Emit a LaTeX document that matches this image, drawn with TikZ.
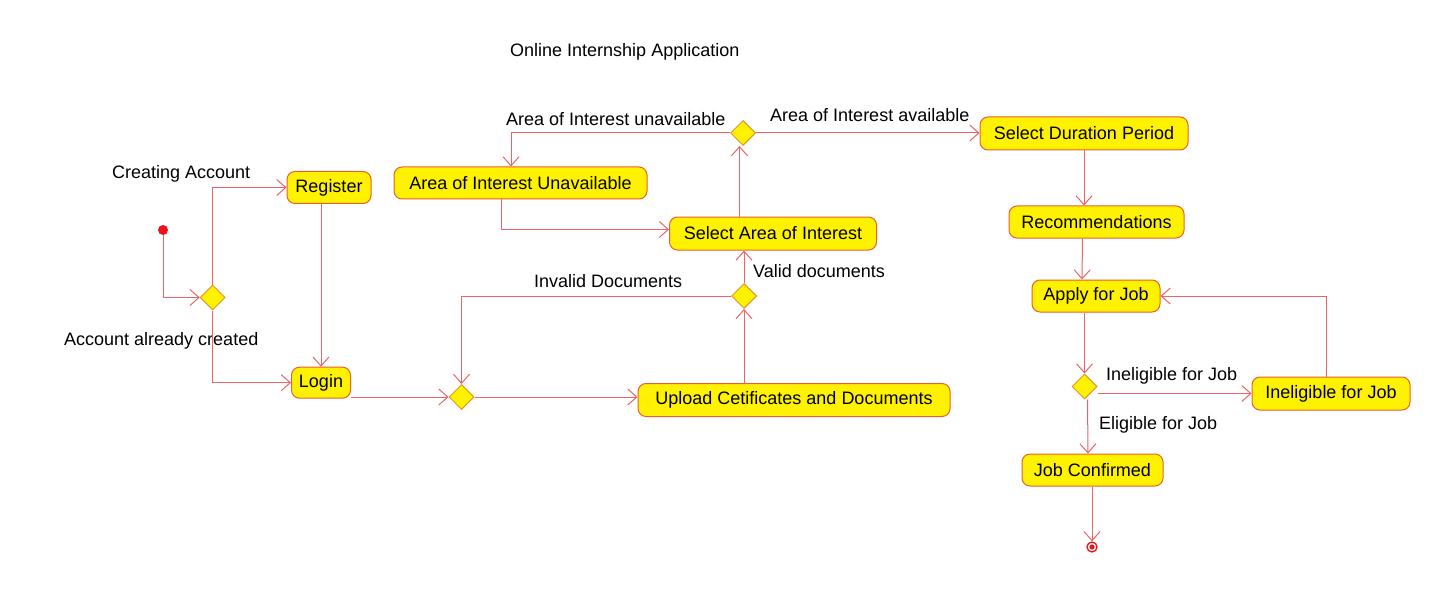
\documentclass[tikz,border=0pt]{standalone}
\usepackage{fontspec}
\setmainfont{Liberation Sans}
\usetikzlibrary{arrows.meta,shapes.geometric,calc}
\definecolor{boxline}{RGB}{232,96,44}
\definecolor{dialine}{RGB}{226,150,40}
\definecolor{flowline}{RGB}{236,100,100}
\definecolor{dotred}{RGB}{236,20,28}
\tikzset{
  act/.style={draw=boxline, fill=yellow, rounded corners=8pt, line width=1pt,
    inner sep=0pt, font=\fontsize{18}{21}\selectfont},
  dec/.style={diamond, draw=dialine, fill=yellow, line width=1pt, inner sep=0pt,
    minimum width=25pt, minimum height=25pt},
  flow/.style={draw=flowline, line width=1pt,
    -{Straight Barb[length=9pt,width=16pt,line width=1pt]}},
  lbl/.style={anchor=base west, inner sep=0pt, font=\fontsize{18}{21}\selectfont}
}
\begin{document}
\begin{tikzpicture}[x=1pt,y=-1pt]
\useasboundingbox (0,0) rectangle (1453,604);
\fill[white] (0,0) rectangle (1453,604);

% title
\node[lbl] (title) at (510,57) {Online Internship Application};

% start / end
\node[circle, fill=dotred, inner sep=0pt, minimum size=10pt] (start) at (163,230) {};
\node[circle, draw=dotred, fill=white, line width=1.3pt, inner sep=0pt, minimum size=10pt] (stop) at (1092,547) {};
\fill[dotred] (stop.center) circle (2.6pt);

% activities
\node[act, minimum width=84pt, minimum height=32pt] (reg) at (329,187.5) {Register};
\node[act, minimum width=59pt, minimum height=31pt] (login) at (321,382.7) {Login};
\node[act, minimum width=253pt, minimum height=32pt] (aoiu) at (520.5,183) {Area of Interest Unavailable};
\node[act, minimum width=207pt, minimum height=33pt] (sai) at (773,233.5) {Select Area of Interest};
\node[act, minimum width=312pt, minimum height=33pt] (upload) at (794,400) {Upload Cetificates and Documents};
\node[act, minimum width=208pt, minimum height=33pt] (sdp) at (1084,133.5) {Select Duration Period};
\node[act, minimum width=175pt, minimum height=32pt] (rec) at (1096.5,222) {Recommendations};
\node[act, minimum width=128pt, minimum height=32pt] (apply) at (1096,296) {Apply for Job};
\node[act, minimum width=158pt, minimum height=33pt] (ifj) at (1331,393.5) {Ineligible for Job};
\node[act, minimum width=141pt, minimum height=32pt] (jc) at (1092.5,470) {Job Confirmed};

% decisions
\node[dec] (d1) at (212.7,297.5) {};
\node[dec] (d2) at (461.5,397) {};
\node[dec] (d3) at (744,296) {};
\node[dec] (d4) at (743,133) {};
\node[dec] (d5) at (1084.5,386.5) {};

% labels
\node[lbl] (lca) at (112,178.5) {Creating Account};
\node[lbl] (laa) at (64,345.5) {Account already created};
\node[lbl] (lau) at (506,125.7) {Area of Interest unavailable};
\node[lbl] (laa2) at (770,122) {Area of Interest available};
\node[lbl] (lid) at (534,287.5) {Invalid Documents};
\node[lbl] (lvd) at (753,277.5) {Valid documents};
\node[lbl] (lij) at (1106,380) {Ineligible for Job};
\node[lbl] (lej) at (1099,429.5) {Eligible for Job};

% connectors
\draw[flow] (start) |- (d1.west);
\draw[flow] (d1.north) |- (reg.west);
\draw[flow] (d1.south) |- (login.west);
\draw[flow] (login.north |- reg.south) -- (login.north);
\draw[flow] (login.east |- d2.west) -- (d2.west);
\draw[flow] (d2.east) -- (d2.east -| upload.west);
\draw[flow] (d3.south |- upload.north) -- (d3.south);
\draw[flow] (d3.west) -| (d2.north);
\draw[flow] (d3.north) -- (d3.north |- sai.south);
\draw[flow] ([xshift=-3.5pt]d4.south |- sai.north) -- ([xshift=-3.5pt]d4.south);
\draw[flow] (d4.west) -| ([xshift=-9.5pt]aoiu.north);
\draw[flow] ([xshift=-19.5pt]aoiu.south) |- ([yshift=4pt]sai.west);
\draw[flow] (d4.east) -- (d4.east -| sdp.west);
\draw[flow] (sdp.south) -- (sdp.south |- rec.north);
\draw[flow] ([xshift=-14pt]rec.south) -- ([xshift=-14pt]apply.north);
\draw[flow] (d5.north |- apply.south) -- (d5.north);
\draw[flow] (d5.east |- ifj.west) -- (ifj.west);
\draw[flow] ([xshift=-5pt]ifj.north) |- (apply.east);
\draw[flow] ([xshift=3pt]d5.south) -- ([xshift=-4.5pt]jc.north);
\draw[flow] (stop.north |- jc.south) -- (stop.north);
\end{tikzpicture}
\end{document}
